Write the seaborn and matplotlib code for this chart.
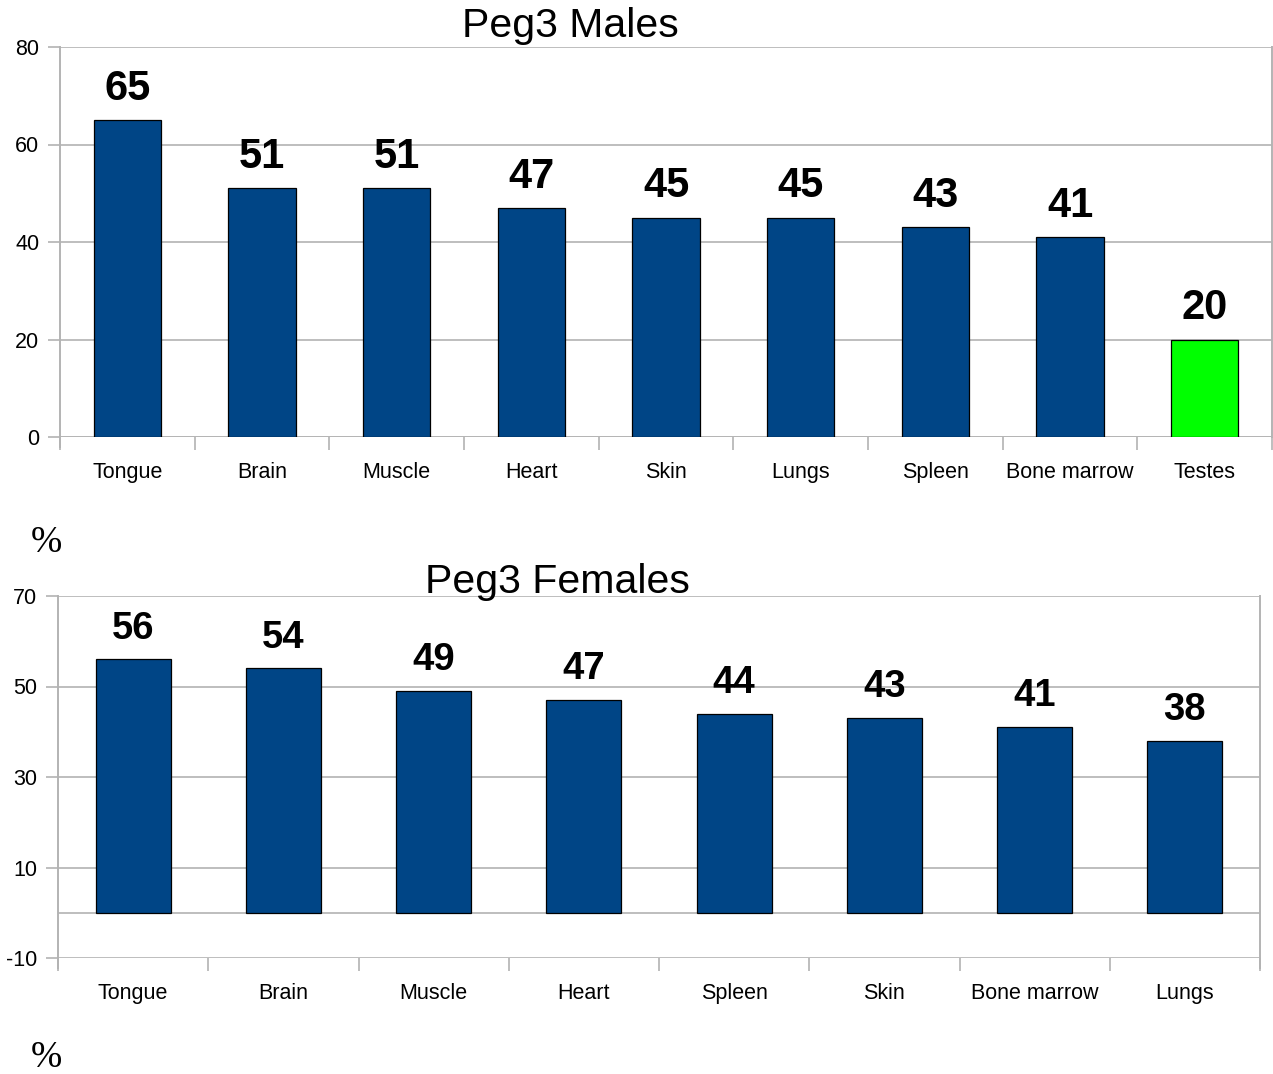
import matplotlib
matplotlib.use("Agg")
import matplotlib.pyplot as plt
import seaborn as sns
import pandas as pd

# Peg3 expression by tissue (%)
male_tissues = ["Tongue", "Brain", "Muscle", "Heart", "Skin", "Lungs",
                "Spleen", "Bone marrow", "Testes"]
male_values = [65, 51, 51, 47, 45, 45, 43, 41, 20]
male_colors = ["#004586"] * 8 + ["#00ff00"]

female_tissues = ["Tongue", "Brain", "Muscle", "Heart", "Spleen", "Skin",
                  "Bone marrow", "Lungs"]
female_values = [56, 54, 49, 47, 44, 43, 41, 38]
female_colors = ["#004586"] * 8

male_yticks = [0, 20, 40, 60, 80]
female_yticks = [-10, 10, 30, 50, 70]

sns.set_style("white")
plt.rcParams["font.family"] = ["Liberation Sans", "DejaVu Sans"]
plt.rcParams["axes.unicode_minus"] = False

W, H = 1273, 1074
fig = plt.figure(figsize=(W / 100, H / 100), dpi=100)

GRID = "#b3b3b3"


def px_axes(left, top, right, bottom):
    return fig.add_axes([left / W, 1 - bottom / H, (right - left) / W, (bottom - top) / H])


def draw_panel(ax, tissues, values, colors, yticks, ylim, label_size, label_gap):
    df = pd.DataFrame({"tissue": tissues, "value": values})
    sns.barplot(data=df, x="tissue", y="value", hue="tissue", palette=colors,
                legend=False, width=0.5, edgecolor="black", linewidth=0.9,
                saturation=1, ax=ax, zorder=3)
    n = len(tissues)
    ax.set_xlim(-0.5, n - 0.5)
    ax.set_ylim(*ylim)
    ax.set_yticks(yticks)
    ax.yaxis.grid(True, color=GRID, linewidth=1.2, zorder=0)
    ax.axhline(0, color=GRID, linewidth=1.2, zorder=1)
    ax.set_axisbelow(True)
    ax.set_xlabel("")
    ax.set_ylabel("")
    for s in ["left", "right"]:
        ax.spines[s].set_visible(True)
        ax.spines[s].set_color(GRID)
        ax.spines[s].set_linewidth(1.4)
    for s in ["top", "bottom"]:
        ax.spines[s].set_visible(False)
    # tick marks between categories
    ax.set_xticks([i - 0.5 for i in range(n + 1)], minor=True)
    ax.tick_params(axis="x", which="minor", length=9, width=1.2, color=GRID,
                   direction="out", bottom=True)
    ax.tick_params(axis="x", which="major", length=0, pad=18, labelsize=15.5,
                   labelcolor="black")
    ax.tick_params(axis="y", which="major", length=9, width=1.2, color=GRID,
                   direction="out", left=True, pad=6, labelsize=15.5,
                   labelcolor="black")
    for i, v in enumerate(values):
        ax.annotate(f"{v}", xy=(i, v), xytext=(0, label_gap),
                    textcoords="offset points", ha="center", va="baseline",
                    fontsize=label_size, fontweight="bold", color="black",
                    zorder=5)


ax1 = px_axes(60, 47, 1272, 437)
draw_panel(ax1, male_tissues, male_values, male_colors, male_yticks,
           (0, 80), 30, 14.5)
ax1.spines["left"].set_bounds(-2.1, 80)

ax2 = px_axes(58, 596, 1260, 958)
draw_panel(ax2, female_tissues, female_values, female_colors, female_yticks,
           (-10, 70), 27.5, 15)
ax2.spines["left"].set_bounds(-12.2, 70)
ax2.spines["right"].set_bounds(-12.2, 70)

fig.text(570 / W, 1 - 37 / H, "Peg3 Males", ha="center", va="baseline",
         fontsize=29.5, color="black")
fig.text(557 / W, 1 - 593 / H, "Peg3 Females", ha="center", va="baseline",
         fontsize=29.5, color="black")

for y in (543, 1058):
    fig.text(46 / W, 1 - y / H, "%", ha="center", va="center", fontsize=27,
             family=["Liberation Serif", "DejaVu Serif"], color="black")

fig.savefig("out.png", dpi=100, facecolor="white")
